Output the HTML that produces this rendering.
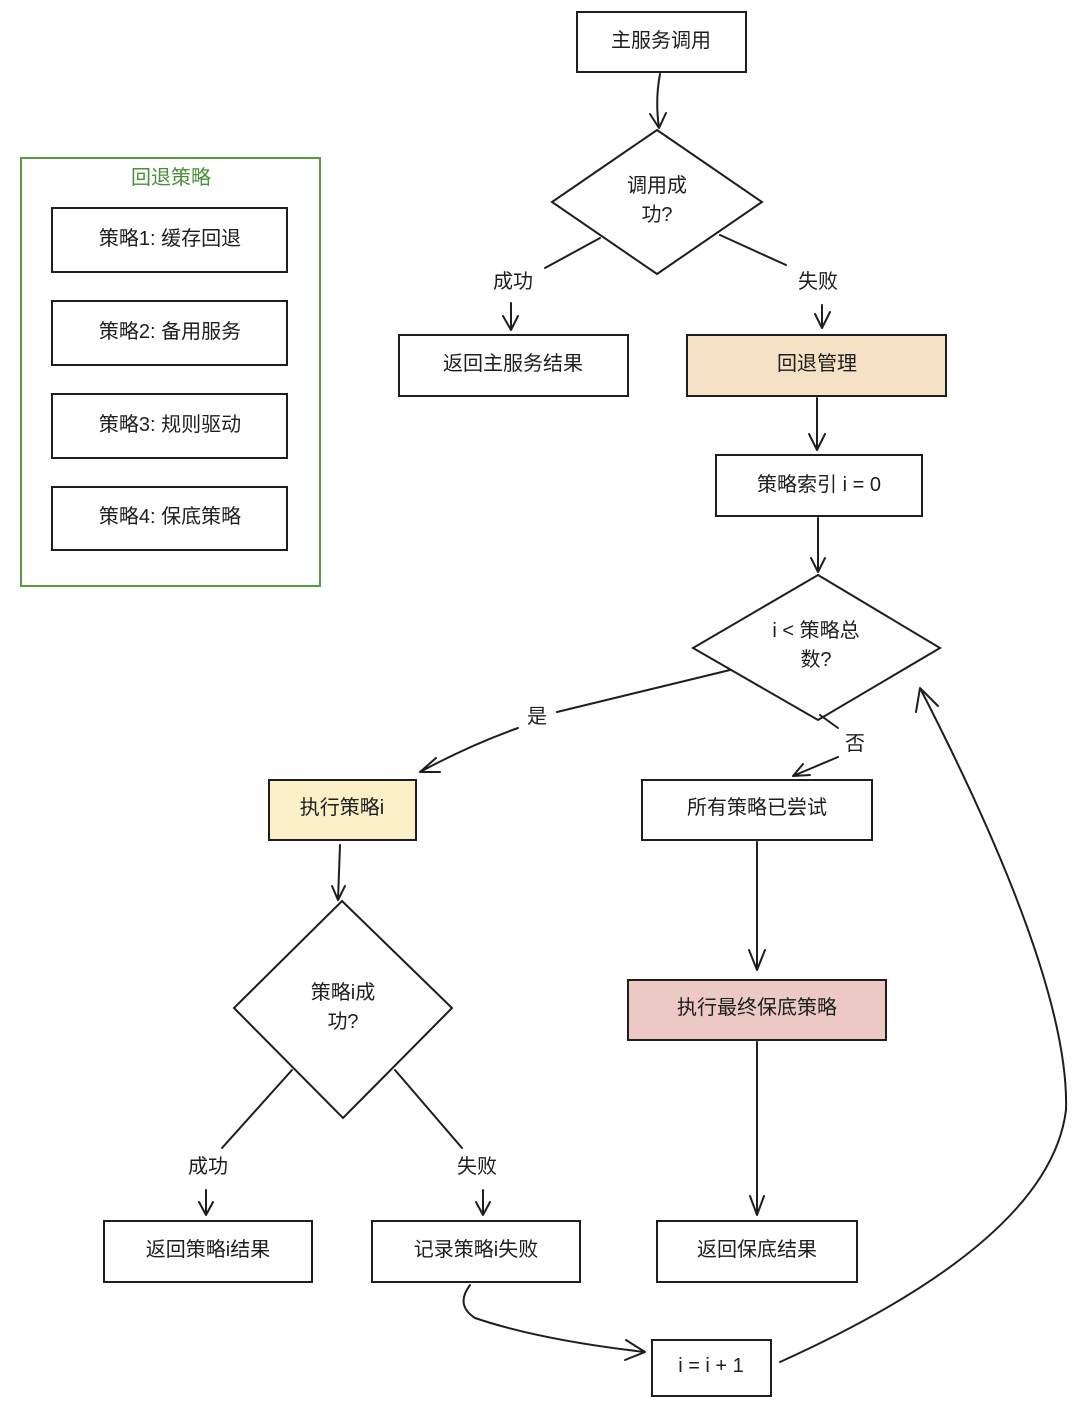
<!DOCTYPE html>
<html><head><meta charset="utf-8"><style>
html,body{margin:0;padding:0;background:#fff}
svg{display:block}
text{font-family:"Liberation Sans","Noto Sans CJK SC",sans-serif;font-size:20px;fill:#1e1e1e;text-anchor:middle;dominant-baseline:central}
.s{fill:none;stroke:#1e1e1e;stroke-width:2;stroke-linecap:round;stroke-linejoin:round}
.b{fill:#fff;stroke:#1e1e1e;stroke-width:2}
</style></head><body>
<svg width="1080" height="1407" viewBox="0 0 1080 1407">
<!-- legend -->
<rect x="21" y="158" width="299" height="428" fill="none" stroke="#5a9a40" stroke-width="2"/>
<text x="171" y="178" style="fill:#4a8f3a">回退策略</text>
<rect class="b" x="52" y="208" width="235" height="64"/><text x="170" y="239">策略1: 缓存回退</text>
<rect class="b" x="52" y="301" width="235" height="64"/><text x="170" y="332">策略2: 备用服务</text>
<rect class="b" x="52" y="394" width="235" height="64"/><text x="170" y="425">策略3: 规则驱动</text>
<rect class="b" x="52" y="487" width="235" height="63"/><text x="170" y="517">策略4: 保底策略</text>

<!-- top -->
<rect class="b" x="577" y="12" width="169" height="60"/><text x="661" y="41">主服务调用</text>
<path class="s" d="M660 74 Q655 100 659 128 M650 114 L659 128 L666 113"/>
<polygon class="b" points="657,130 762,202 657,274 552,202"/>
<text x="657" y="186">调用成</text><text x="657" y="215">功?</text>
<path class="s" d="M600 238 L545 268" stroke-width="3"/>
<text x="513" y="282">成功</text>
<path class="s" d="M511 303 L511 330 M503 316 L511 330 L518 316"/>
<path class="s" d="M720 235 L786 265"/>
<text x="818" y="282">失败</text>
<path class="s" d="M822 305 L822 328 M815 314 L822 328 L830 312"/>
<rect class="b" x="399" y="335" width="229" height="61"/><text x="513" y="364">返回主服务结果</text>
<rect x="687" y="335" width="259" height="61" fill="#f5e2c4" stroke="#1e1e1e" stroke-width="2"/><text x="817" y="364">回退管理</text>
<path class="s" d="M817 398 L817 450 M809 434 L817 450 L825 434"/>
<rect class="b" x="716" y="455" width="206" height="61"/><text x="819" y="485">策略索引 i = 0</text>
<path class="s" d="M818 518 L818 572 M811 558 L818 572 L825 558"/>
<polygon class="b" points="818,575 940,648 818,720 693,648"/>
<text x="816" y="631">i &lt; 策略总</text><text x="816" y="660">数?</text>
<path class="s" d="M730 670 L557 712"/>
<text x="537" y="717">是</text>
<path class="s" d="M518 728 Q470 745 420 772 M436 758 L420 772 L440 772"/>
<path class="s" d="M820 715 L838 728"/>
<text x="855" y="744">否</text>
<path class="s" d="M838 757 L793 776 M803 764 L793 776 L810 775"/>
<rect x="269" y="780" width="147" height="60" fill="#faefc6" stroke="#1e1e1e" stroke-width="2"/><text x="342" y="808">执行策略i</text>
<rect class="b" x="642" y="780" width="230" height="60"/><text x="757" y="808">所有策略已尝试</text>
<path class="s" d="M340 845 L338 900 M332 886 L338 900 L345 886"/>
<polygon class="b" points="342,901 452,1008 343,1118 234,1008"/>
<text x="343" y="993">策略i成</text><text x="343" y="1022">功?</text>
<path class="s" d="M292 1070 L222 1148" stroke-width="3"/>
<text x="208" y="1167">成功</text>
<path class="s" d="M206 1190 L206 1215 M199 1202 L206 1215 L213 1202"/>
<path class="s" d="M395 1070 L462 1148" stroke-width="3"/>
<text x="477" y="1167">失败</text>
<path class="s" d="M483 1190 L483 1215 M476 1202 L483 1215 L490 1202"/>
<rect class="b" x="104" y="1221" width="208" height="61"/><text x="208" y="1250">返回策略i结果</text>
<rect class="b" x="372" y="1221" width="208" height="61"/><text x="476" y="1250">记录策略i失败</text>
<path class="s" d="M757 842 L757 970 M749 950 L757 970 L765 950"/>
<rect x="628" y="980" width="258" height="60" fill="#ecc9c4" stroke="#1e1e1e" stroke-width="2"/><text x="757" y="1008">执行最终保底策略</text>
<path class="s" d="M757 1042 L757 1215 M750 1196 L757 1215 L764 1196"/>
<rect class="b" x="657" y="1221" width="200" height="61"/><text x="757" y="1250">返回保底结果</text>
<rect class="b" x="652" y="1340" width="119" height="56"/><text x="711" y="1366">i = i + 1</text>
<path class="s" d="M470 1285 Q455 1305 475 1318 Q540 1340 645 1352 M626 1340 L645 1352 L625 1360"/>
<path class="s" d="M780 1362 Q1050 1240 1066 1110 Q1070 980 920 688 M916 712 L920 688 L938 706" stroke-width="2.5"/>
</svg>
</body></html>
